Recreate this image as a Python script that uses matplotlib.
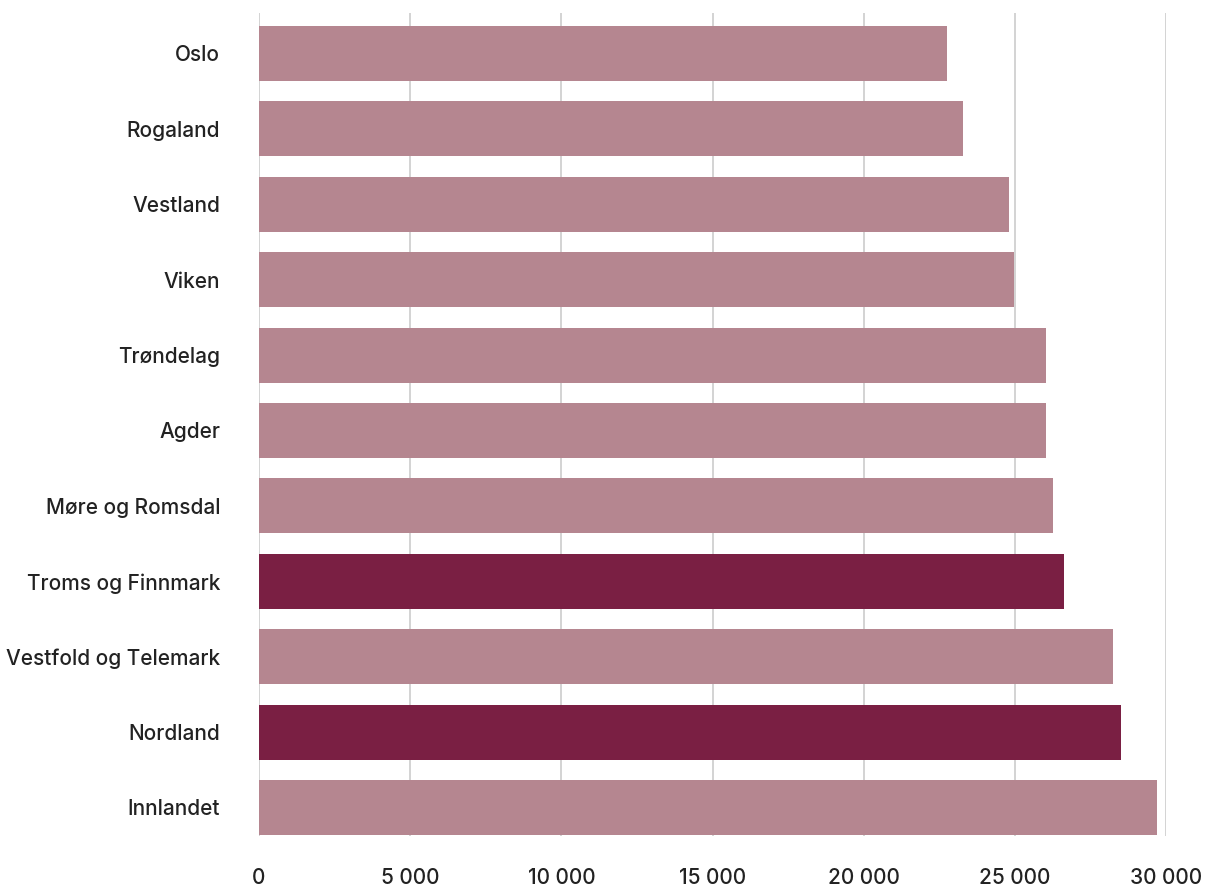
import numpy as np
import matplotlib.pyplot as plt
from matplotlib.ticker import FuncFormatter

fylker = ['Oslo', 'Rogaland', 'Vestland', 'Viken', 'Trøndelag', 'Agder',
          'Møre og Romsdal', 'Troms og Finnmark', 'Vestfold og Telemark',
          'Nordland', 'Innlandet']
verdier = [22750, 23290, 24800, 24970, 26030, 26030,
           26260, 26630, 28250, 28510, 29700]
uthevet = ['Troms og Finnmark', 'Nordland']

LYS = '#b58690'
MORK = '#7a1f43'

plt.rcParams['font.family'] = ['Inter', 'DejaVu Sans']
plt.rcParams['font.weight'] = 'medium'

fig = plt.figure(figsize=(12.05, 8.86), dpi=100)
ax = fig.add_axes([259/1205, 1 - 836/886, (1166-259)/1205, (836-13)/886])

farger = [MORK if f in uthevet else LYS for f in fylker]
y = np.arange(len(fylker))
ax.barh(y, verdier, height=0.73, color=farger, zorder=2)

ax.set_xlim(0, 30000)
ax.set_ylim(len(fylker) - 1 + 0.378, -0.537)
ax.set_yticks(y)
ax.set_yticklabels(fylker)
ax.set_xticks(np.arange(0, 30001, 5000))
ax.xaxis.set_major_formatter(FuncFormatter(lambda v, p: f'{int(v):,}'.replace(',', ' ')))

ax.grid(axis='x', color='#cccccc', linewidth=1.2, zorder=0)
for s in ax.spines.values():
    s.set_visible(False)
ax.tick_params(axis='both', length=0, labelsize=15, colors='#222222')
ax.tick_params(axis='y', pad=28)
ax.tick_params(axis='x', pad=23)

fig.savefig('out.png', dpi=100)
